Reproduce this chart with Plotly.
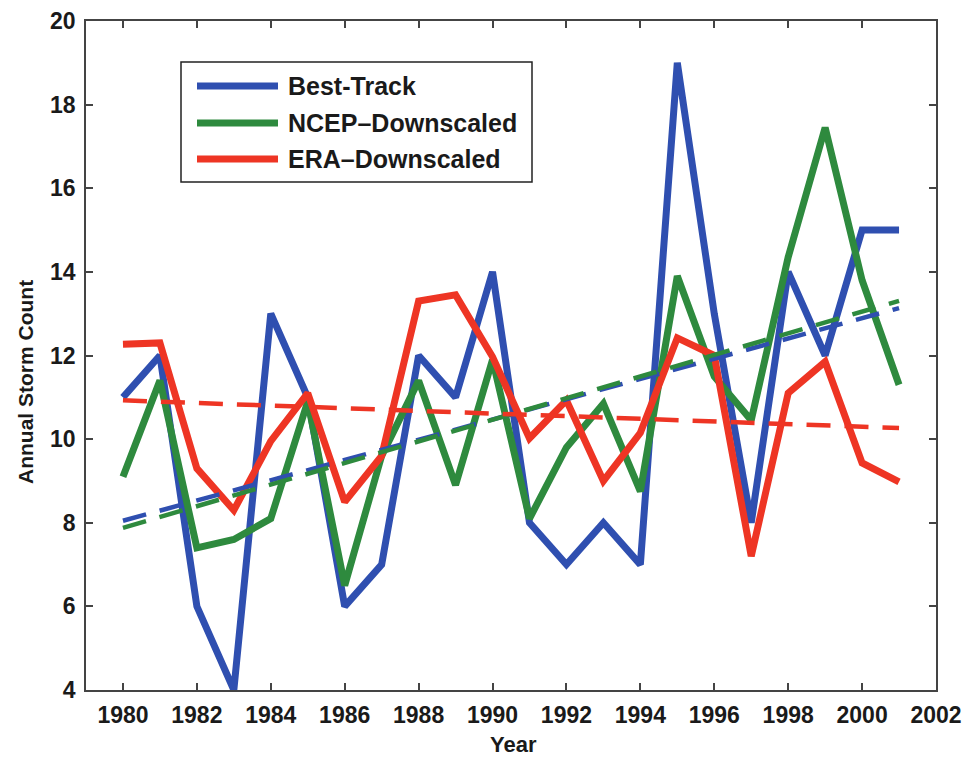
import numpy as np
import plotly.graph_objects as go

years = list(range(1980, 2002))
best_track = [11, 12, 6, 4, 13, 11, 6, 7, 12, 11, 14, 8, 7, 8, 7, 19, 13, 8, 14, 12, 15, 15]
ncep = [9.1, 11.4, 7.4, 7.6, 8.1, 10.9, 6.5, 9.6, 11.4, 8.9, 11.9, 8.1, 9.8, 10.85, 8.75, 13.9,
        11.5, 10.45, 14.35, 17.45, 13.8, 11.3]
era = [12.27, 12.3, 9.3, 8.3, 9.95, 11.1, 8.5, 9.6, 13.3, 13.45, 11.97, 10.02, 10.93, 9.0, 10.15,
       12.42, 12.0, 7.2, 11.1, 11.85, 9.43, 8.98]

names = ["Best-Track", "NCEP\u2013Downscaled", "ERA\u2013Downscaled"]
colors = ["#2f4fb0", "#2e8a3e", "#ee3524"]
series = [best_track, ncep, era]

x_ticks = list(range(1980, 2003, 2))
y_ticks = list(range(4, 21, 2))

W, H = 968, 757
L, R, T, B = 86, 32, 21, 67
pw, ph = W - L - R, H - T - B

def px(x):
    return (x - L) / pw

def py(y):
    return (H - B - y) / ph

FONT = "Liberation Sans"
TXT = "#1a1a1a"

fig = go.Figure()
yrs = np.array(years, dtype=float)
for name, col, vals in zip(names, colors, series):
    fig.add_trace(go.Scatter(x=years, y=vals, mode="lines", name=name,
                             line=dict(color=col, width=7), showlegend=False))
for name, col, vals in zip(names, colors, series):
    k, b0 = np.polyfit(yrs, np.array(vals, dtype=float), 1)
    fig.add_trace(go.Scatter(x=[years[0], years[-1]], y=[k * years[0] + b0, k * years[-1] + b0],
                             mode="lines", line=dict(color=col, width=4.5, dash="24px,14px"),
                             showlegend=False, hoverinfo="skip"))

shapes = [dict(type="rect", xref="paper", yref="paper",
               x0=px(181), x1=px(532), y0=py(182), y1=py(62),
               line=dict(color="#222222", width=1.5), fillcolor="white", layer="above")]
annotations = []
rows = [86, 123, 159]
for name, col, ry in zip(names, colors, rows):
    shapes.append(dict(type="line", xref="paper", yref="paper",
                       x0=px(197), x1=px(278), y0=py(ry), y1=py(ry),
                       line=dict(color=col, width=7), layer="above"))
    annotations.append(dict(xref="paper", yref="paper", x=px(286), y=py(ry),
                            xanchor="left", yanchor="middle", text=name, showarrow=False,
                            font=dict(family=FONT, size=25, color=TXT, weight="bold")))

annotations.append(dict(xref="paper", yref="paper", x=px(513), y=py(744),
                        xanchor="center", yanchor="middle", text="Year", showarrow=False,
                        font=dict(family=FONT, size=22, color=TXT, weight="bold")))
annotations.append(dict(xref="paper", yref="paper", x=px(25), y=py(382),
                        xanchor="center", yanchor="middle", text="Annual Storm Count",
                        showarrow=False, textangle=-90,
                        font=dict(family=FONT, size=21, color=TXT, weight="bold")))

axis_common = dict(showline=True, linecolor="#444444", linewidth=1.5, mirror="ticks",
                   ticks="inside", ticklen=7, tickwidth=1.5, tickcolor="#444444",
                   showgrid=False, zeroline=False, automargin=False,
                   tickfont=dict(family=FONT, size=23, color=TXT, weight="bold"))

fig.update_layout(
    width=W, height=H,
    margin=dict(l=L, r=R, t=T, b=B),
    paper_bgcolor="white", plot_bgcolor="white",
    shapes=shapes, annotations=annotations,
    xaxis=dict(range=[1979, 2002], tickvals=x_ticks, ticklabelstandoff=4, **axis_common),
    yaxis=dict(range=[4, 20], tickvals=y_ticks, ticklabelstandoff=4, **axis_common),
)

fig.write_html("out.html", config={"displayModeBar": False},
               post_script="document.body.style.margin='0';document.body.style.overflow='hidden';")
